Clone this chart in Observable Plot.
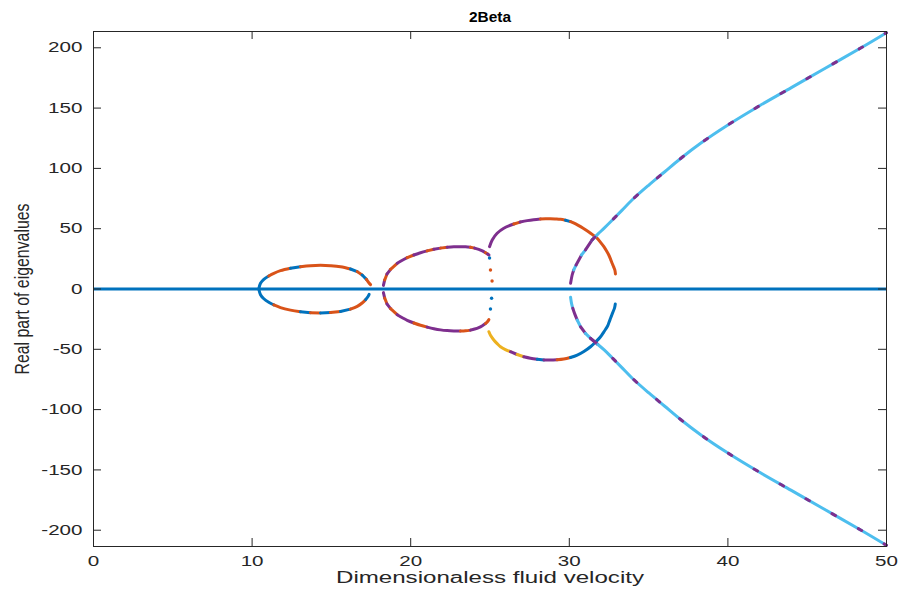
<!DOCTYPE html>
<html><head><meta charset="utf-8">
<script src="https://cdn.jsdelivr.net/npm/d3@7"></script>
<script src="https://cdn.jsdelivr.net/npm/@observablehq/plot@0.6"></script>
<style>
body{margin:0;background:#fff;}
svg{font-family:"Liberation Sans",Arial,Helvetica,sans-serif;}
</style>
</head><body><div id="chart"></div>
<script>
// ---- text ----
const titleText = "2Beta";
const xLabelText = "Dimensionaless fluid velocity";
const yLabelText = "Real part of eigenvalues";
const xTicks = [0, 10, 20, 30, 40, 50];
const yTicks = [-200, -150, -100, -50, 0, 50, 100, 150, 200];

// MATLAB default colour order (codes used in the colour strings below)
const palette = {b: "#0072BD", o: "#D95319", y: "#EDB120", p: "#7E2F8E", c: "#4DBEEE"};

// ---- loop 1 ----
const loop1UpX = [10.42, 10.53, 10.74, 11.05, 11.37, 11.79, 12.42, 13.05, 13.68, 14.31, 14.94, 15.57, 16.2, 16.63, 16.94, 17.21, 17.36, 17.47];
const loop1UpY = [0, 4.7, 8.0, 10.8, 13.0, 15.2, 17.2, 18.5, 19.3, 19.6, 19.3, 18.5, 16.6, 14.4, 11.6, 8.0, 5.2, 3.6];
const loop1UpC = "bbbooobooooobobooo";
const loop1LoX = [10.42, 10.53, 10.74, 11.05, 11.37, 11.79, 12.42, 13.05, 13.68, 14.31, 14.94, 15.57, 16.2, 16.63, 16.94, 17.16, 17.3, 17.38];
const loop1LoY = [0, -4.7, -8.1, -11.0, -13.2, -15.4, -17.5, -18.9, -19.6, -19.8, -19.5, -18.6, -16.7, -14.4, -11.6, -8.8, -6.4, -4.4];
const loop1LoC = "bbbbooobobobooobbb";

// ---- loop 2 ----
const loop2UpX = [18.28, 18.36, 18.5, 18.73, 19.15, 19.5, 19.78, 20.2, 20.62, 21.04, 21.46, 21.88, 22.3, 22.72, 23.14, 23.46, 23.77, 24.03, 24.29, 24.52, 24.72, 24.85, 24.93];
const loop2UpY = [3.0, 7.5, 12.3, 16.3, 21.3, 24.0, 26.0, 28.2, 30.1, 31.6, 32.9, 33.9, 34.6, 35.0, 35.1, 35.0, 34.6, 33.9, 32.9, 31.6, 30.1, 29.0, 28.2];
const loop2UpC = "popoppoppopoppppopppopp";
const loop2LoX = [18.28, 18.36, 18.5, 18.73, 19.15, 19.5, 19.78, 20.2, 20.62, 21.04, 21.46, 21.88, 22.3, 22.72, 23.14, 23.46, 23.77, 24.03, 24.29, 24.52, 24.72, 24.85, 24.93];
const loop2LoY = [-3.0, -7.5, -12.3, -16.3, -21.3, -24.0, -26.0, -28.2, -30.1, -31.6, -32.9, -33.9, -34.5, -34.8, -34.9, -34.7, -34.1, -33.2, -32.0, -30.4, -28.6, -26.9, -25.4];
const loop2LoC = "popopppoopppppooppppooo";

// ---- isolated points near U = 25 ----
const gapX = [24.97, 25.03, 25.13, 25.1, 25.03];
const gapY = [25.7, 15.8, 6.6, -7.7, -16.6];
const gapC = "boobb";

// ---- loop 3 ----
const loop3UpX = [24.97, 25.14, 25.45, 25.87, 26.5, 26.9, 27.35, 27.75, 28.18, 28.5, 28.81, 29.12, 29.44, 29.76, 30.08, 30.4, 30.71, 31.02, 31.34, 31.55, 31.76, 31.97, 32.18, 32.35, 32.49, 32.6, 32.7, 32.79, 32.87, 32.91];
const loop3UpY = [35.1, 40.7, 46.2, 50.4, 53.9, 55.5, 56.7, 57.5, 58.1, 58.3, 58.3, 58.1, 57.8, 57.0, 55.9, 54.0, 51.7, 49.1, 46.2, 44.2, 42.0, 38.7, 35.1, 31.5, 28.2, 24.8, 21.3, 18.5, 15.8, 12.5];
const loop3UpC = "ppppopppooooobooooooooooooooooo";
const loop3LoX = [24.93, 25.05, 25.24, 25.45, 25.66, 25.97, 26.29, 26.71, 27.13, 27.55, 27.98, 28.4, 28.81, 29.23, 29.65, 30.07, 30.5, 30.92, 31.34, 31.66, 31.97, 32.18, 32.39, 32.5, 32.6, 32.68, 32.76, 32.85, 32.9];
const loop3LoY = [-35.4, -38.8, -42.3, -45.3, -47.9, -50.2, -52.0, -54.3, -56.2, -57.4, -58.3, -58.8, -58.9, -58.7, -58.1, -56.8, -54.8, -51.8, -47.9, -43.9, -39.6, -35.5, -31.3, -27.8, -24.3, -21.5, -18.8, -15.8, -12.4];
const loop3LoC = "yyyyyypyppbppoobbbbbbbbbbbbbb";

// ---- diverging branch ----
const bigUpX = [30.08, 30.18, 30.28, 30.43, 30.6, 30.77, 31.02, 31.44, 31.8, 32.2, 32.7, 33.3, 33.97, 35.0, 36.0, 37.0, 38.3, 40.0, 42.0, 44.0, 46.0, 48.4, 50.0];
const bigUpY = [4.7, 11.6, 15.8, 19.9, 24.1, 28.2, 32.4, 40.7, 45.5, 50.5, 57, 65, 74, 86, 97, 108, 121, 136, 152, 167, 182, 200, 212.5];
const bigUpC = "ppcppcpccccccccccccccccc";
const bigLoX = [30.08, 30.14, 30.22, 30.33, 30.5, 30.71, 31.02, 31.34, 31.8, 32.2, 32.7, 33.3, 33.97, 35.0, 36.0, 37.0, 38.3, 40.0, 42.0, 44.0, 46.0, 48.4, 50.0];
const bigLoY = [-6.9, -11.9, -16, -20.2, -25.7, -31.3, -36.8, -40.9, -46, -50.5, -57, -65, -74, -86, -97, -108, -121, -136, -152, -167, -182, -200, -212.5];
const bigLoC = "ccppcpcpcccccccccccccccc";

const zeroLevel = [0];

// ---- build tables ----
const curves = [
  [loop1UpX, loop1UpY, loop1UpC], [loop1LoX, loop1LoY, loop1LoC],
  [loop2UpX, loop2UpY, loop2UpC], [loop2LoX, loop2LoY, loop2LoC],
  [loop3UpX, loop3UpY, loop3UpC], [loop3LoX, loop3LoY, loop3LoC],
  [bigUpX, bigUpY, bigUpC], [bigLoX, bigLoY, bigLoC]
];
const runRows = [];
let runId = 0;
for (const [X, Y, C] of curves) {
  const n = X.length;
  let i = 0;
  while (i < n - 1) {
    let j = i;
    while (j + 1 < n - 1 && C[j + 1] === C[i]) j++;
    for (let k = i; k <= j + 1; k++) runRows.push({x: X[k], y: Y[k], run: runId, col: palette[C[i]]});
    runId++;
    i = j + 1;
  }
}
const gapRows = gapX.map((x, i) => ({x, y: gapY[i], col: palette[gapC[i]]}));
const accentRows = [];
[[bigUpX, bigUpY, 0], [bigLoX, bigLoY, 1]].forEach(([X, Y, s]) => {
  for (let k = 7; k < X.length; k++) accentRows.push({x: X[k], y: Y[k], s});
});

const W = 900, H = 591, mL = 93, mR = 14, mT = 31, mB = 45;
const axisColor = "#262626";
const tickLen = 8;
const pw = W - mL - mR, ph = H - mT - mB;

const chart = Plot.plot({
  width: W, height: H,
  marginLeft: mL, marginRight: mR, marginTop: mT, marginBottom: mB,
  style: {background: "#fff", overflow: "visible"},
  x: {domain: [0, 50]},
  y: {domain: [-213.5, 213.5]},
  color: {type: "identity"},
  marks: [
    Plot.line(runRows, {x: "x", y: "y", z: "run", stroke: "col", strokeWidth: 3, curve: "catmull-rom", strokeLinecap: "round"}),
    Plot.line(accentRows, {x: "x", y: "y", z: "s", stroke: palette.p, strokeWidth: 3, curve: "catmull-rom", strokeDasharray: "4 26"}),
    Plot.dot(gapRows, {x: "x", y: "y", fill: "col", r: 1.7}),
    Plot.ruleY(zeroLevel, {stroke: palette.b, strokeWidth: 3}),
    Plot.frame({stroke: axisColor, strokeWidth: 1}),
    Plot.tickY(yTicks, {y: d => d, stroke: axisColor, insetRight: pw - tickLen}),
    Plot.tickY(yTicks, {y: d => d, stroke: axisColor, insetLeft: pw - tickLen}),
    Plot.tickX(xTicks, {x: d => d, stroke: axisColor, insetTop: ph - tickLen}),
    Plot.tickX(xTicks, {x: d => d, stroke: axisColor, insetBottom: ph - tickLen}),
    Plot.axisX(xTicks, {tickSize: 0, tickPadding: 9, tickFormat: d => String(d), fontSize: 14.5, color: axisColor, label: null}),
    Plot.axisY(yTicks, {tickSize: 0, tickPadding: 11, tickFormat: d => String(d), fontSize: 14.5, color: axisColor, label: null}),
    Plot.text([titleText], {frameAnchor: "top", textAnchor: "middle", dy: -19, fontSize: 14, fontWeight: "bold", fill: "#000", className: "title"}),
    Plot.text([xLabelText], {frameAnchor: "bottom", textAnchor: "middle", dy: 36, fontSize: 16, fill: axisColor, className: "xlab"}),
    Plot.text([yLabelText], {frameAnchor: "left", textAnchor: "middle", dx: -71.5, rotate: -90, fontSize: 21, fill: axisColor, className: "ylab"})
  ]
});
document.getElementById("chart").appendChild(chart);

// The MATLAB export in the reference is stretched horizontally
const STRETCH = 1.42;
function setLen(el, len) {
  el.setAttribute("textLength", len.toFixed(1));
  el.setAttribute("lengthAdjust", "spacingAndGlyphs");
}
const root = d3.select(chart);
root.selectAll('g[aria-label="x-axis tick label"] text, g[aria-label="y-axis tick label"] text').each(function() {
  setLen(this, this.getComputedTextLength() * STRETCH);
});
root.selectAll('.title text').each(function() { setLen(this, 42); });
root.selectAll('.xlab text').each(function() { setLen(this, 308); });
root.selectAll('.ylab text').each(function() { setLen(this, 171); });
</script>
</body></html>
